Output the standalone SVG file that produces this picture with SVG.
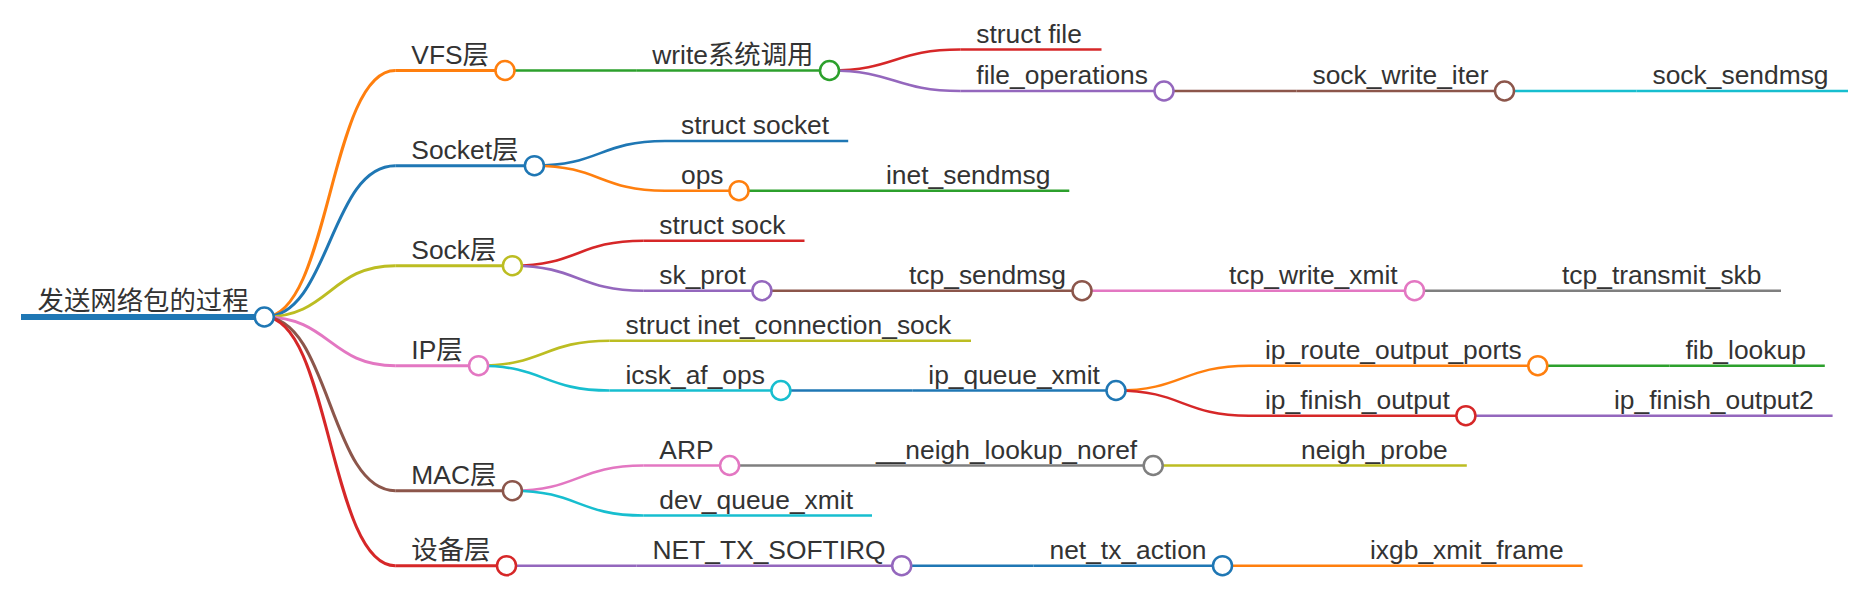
<svg xmlns="http://www.w3.org/2000/svg" width="1861" height="605" viewBox="0 0 1861 605">
<style>
text{font-family:"Liberation Sans",Arial,"Noto Sans CJK SC",sans-serif;font-size:26.4px;fill:#333}
path,line{fill:none;stroke-linecap:butt}
circle{fill:#fff;stroke-width:2.5}
.d0{stroke-width:6}.d1{stroke-width:3}.d2{stroke-width:2.6}.d3{stroke-width:2.4}
.c0{stroke:#1f77b4}.c1{stroke:#ff7f0e}.c2{stroke:#2ca02c}.c3{stroke:#d62728}.c4{stroke:#9467bd}
.c5{stroke:#8c564b}.c6{stroke:#e377c2}.c7{stroke:#7f7f7f}.c8{stroke:#bcbd22}.c9{stroke:#17becf}
</style>
<rect width="1861" height="605" fill="#fff"/>
<g id="connectors">
<path class="d1 c1" d="M264.3 317C329.8 317 329.8 70.5 395.3 70.5"/>
<path class="d1 c0" d="M264.3 317C329.8 317 329.8 165.7 395.3 165.7"/>
<path class="d1 c8" d="M264.3 317C329.8 317 329.8 265.7 395.3 265.7"/>
<path class="d1 c6" d="M264.3 317C329.8 317 329.8 365.7 395.3 365.7"/>
<path class="d1 c5" d="M264.3 317C329.8 317 329.8 490.7 395.3 490.7"/>
<path class="d1 c3" d="M264.3 317C329.8 317 329.8 565.7 395.3 565.7"/>
<path class="d2 c2" d="M505 70.5L636.2 70.5"/>
<path class="d2 c0" d="M534.4 165.7C599.7 165.7 599.7 141 665 141"/>
<path class="d2 c1" d="M534.4 165.7C599.7 165.7 599.7 190.7 665 190.7"/>
<path class="d2 c3" d="M512.4 265.7C577.9 265.7 577.9 240.7 643.3 240.7"/>
<path class="d2 c4" d="M512.4 265.7C577.9 265.7 577.9 290.7 643.3 290.7"/>
<path class="d2 c8" d="M478.6 365.7C544 365.7 544 340.7 609.5 340.7"/>
<path class="d2 c9" d="M478.6 365.7C544 365.7 544 390.5 609.5 390.5"/>
<path class="d2 c6" d="M512.4 490.7C577.9 490.7 577.9 465.5 643.3 465.5"/>
<path class="d2 c9" d="M512.4 490.7C577.9 490.7 577.9 515.5 643.3 515.5"/>
<path class="d2 c4" d="M506.5 565.7L636.5 565.7"/>
<path class="d3 c3" d="M829.5 70.5C894.9 70.5 894.9 49.5 960.3 49.5"/>
<path class="d3 c4" d="M829.5 70.5C894.9 70.5 894.9 91 960.3 91"/>
<path class="d3 c2" d="M739 190.7L870 190.7"/>
<path class="d3 c5" d="M761.9 290.7L893 290.7"/>
<path class="d3 c0" d="M780.9 390.5L912.3 390.5"/>
<path class="d3 c7" d="M729.6 465.5L860 465.5"/>
<path class="d3 c0" d="M901.7 565.7L1033.5 565.7"/>
<path class="d3 c5" d="M1164 91L1296.5 91"/>
<path class="d3 c6" d="M1082 290.7L1213 290.7"/>
<path class="d3 c1" d="M1116 390.5C1182.5 390.5 1182.5 365.7 1249 365.7"/>
<path class="d3 c3" d="M1116 390.5C1182.5 390.5 1182.5 415.7 1249 415.7"/>
<path class="d3 c8" d="M1153.2 465.5L1285 465.5"/>
<path class="d3 c1" d="M1222.5 565.7L1354 565.7"/>
<path class="d3 c9" d="M1504.5 91L1636.5 91"/>
<path class="d3 c7" d="M1414.5 290.7L1546 290.7"/>
<path class="d3 c2" d="M1537.8 365.7L1669.5 365.7"/>
<path class="d3 c4" d="M1465.9 415.7L1598 415.7"/>
</g>
<g id="n-root"><path class="d0 c0" d="M21 317H264.3"/><text x="37.5" y="310">发送网络包的过程</text><circle class="c0" cx="264.3" cy="317" r="9.5"/></g>
<g id="n-vfs"><path class="d1 c1" d="M395.3 70.5H505"/><text x="411.3" y="63.5">VFS层</text><circle class="c1" cx="505" cy="70.5" r="9.5"/></g>
<g id="n-write"><path class="d2 c2" d="M636.2 70.5H829.5"/><text x="652.2" y="63.5">write系统调用</text><circle class="c2" cx="829.5" cy="70.5" r="9.5"/></g>
<g id="n-structfile"><path class="d3 c3" d="M960.3 49.5H1101.5"/><text x="976.3" y="42.5">struct file</text></g>
<g id="n-fileops"><path class="d3 c4" d="M960.3 91H1164"/><text x="976.3" y="84">file_operations</text><circle class="c4" cx="1164" cy="91" r="9.5"/></g>
<g id="n-sockwriteiter"><path class="d3 c5" d="M1296.5 91H1504.5"/><text x="1312.5" y="84">sock_write_iter</text><circle class="c5" cx="1504.5" cy="91" r="9.5"/></g>
<g id="n-socksendmsg"><path class="d3 c9" d="M1636.5 91H1848"/><text x="1652.5" y="84">sock_sendmsg</text></g>
<g id="n-socket"><path class="d1 c0" d="M395.3 165.7H534.4"/><text x="411.3" y="158.7">Socket层</text><circle class="c0" cx="534.4" cy="165.7" r="9.5"/></g>
<g id="n-structsocket"><path class="d2 c0" d="M665 141H848.2"/><text x="681" y="134">struct socket</text></g>
<g id="n-ops"><path class="d2 c1" d="M665 190.7H739"/><text x="681" y="183.7">ops</text><circle class="c1" cx="739" cy="190.7" r="9.5"/></g>
<g id="n-inetsendmsg"><path class="d3 c2" d="M870 190.7H1069.3"/><text x="886" y="183.7">inet_sendmsg</text></g>
<g id="n-sock"><path class="d1 c8" d="M395.3 265.7H512.4"/><text x="411.3" y="258.7">Sock层</text><circle class="c8" cx="512.4" cy="265.7" r="9.5"/></g>
<g id="n-structsock"><path class="d2 c3" d="M643.3 240.7H804.5"/><text x="659.3" y="233.7">struct sock</text></g>
<g id="n-skprot"><path class="d2 c4" d="M643.3 290.7H761.9"/><text x="659.3" y="283.7">sk_prot</text><circle class="c4" cx="761.9" cy="290.7" r="9.5"/></g>
<g id="n-tcpsendmsg"><path class="d3 c5" d="M893 290.7H1082"/><text x="909" y="283.7">tcp_sendmsg</text><circle class="c5" cx="1082" cy="290.7" r="9.5"/></g>
<g id="n-tcpwritexmit"><path class="d3 c6" d="M1213 290.7H1414.5"/><text x="1229" y="283.7">tcp_write_xmit</text><circle class="c6" cx="1414.5" cy="290.7" r="9.5"/></g>
<g id="n-tcptransmitskb"><path class="d3 c7" d="M1546 290.7H1781"/><text x="1562" y="283.7">tcp_transmit_skb</text></g>
<g id="n-ip"><path class="d1 c6" d="M395.3 365.7H478.6"/><text x="411.3" y="358.7">IP层</text><circle class="c6" cx="478.6" cy="365.7" r="9.5"/></g>
<g id="n-inetconnsock"><path class="d2 c8" d="M609.5 340.7H971"/><text x="625.5" y="333.7">struct inet_connection_sock</text></g>
<g id="n-icskafops"><path class="d2 c9" d="M609.5 390.5H780.9"/><text x="625.5" y="383.5">icsk_af_ops</text><circle class="c9" cx="780.9" cy="390.5" r="9.5"/></g>
<g id="n-ipqueuexmit"><path class="d3 c0" d="M912.3 390.5H1116"/><text x="928.3" y="383.5">ip_queue_xmit</text><circle class="c0" cx="1116" cy="390.5" r="9.5"/></g>
<g id="n-iprouteoutputports"><path class="d3 c1" d="M1249 365.7H1537.8"/><text x="1265" y="358.7">ip_route_output_ports</text><circle class="c1" cx="1537.8" cy="365.7" r="9.5"/></g>
<g id="n-fiblookup"><path class="d3 c2" d="M1669.5 365.7H1824.8"/><text x="1685.5" y="358.7">fib_lookup</text></g>
<g id="n-ipfinishoutput"><path class="d3 c3" d="M1249 415.7H1465.9"/><text x="1265" y="408.7">ip_finish_output</text><circle class="c3" cx="1465.9" cy="415.7" r="9.5"/></g>
<g id="n-ipfinishoutput2"><path class="d3 c4" d="M1598 415.7H1832.6"/><text x="1614" y="408.7">ip_finish_output2</text></g>
<g id="n-mac"><path class="d1 c5" d="M395.3 490.7H512.4"/><text x="411.3" y="483.7">MAC层</text><circle class="c5" cx="512.4" cy="490.7" r="9.5"/></g>
<g id="n-arp"><path class="d2 c6" d="M643.3 465.5H729.6"/><text x="659.3" y="458.5">ARP</text><circle class="c6" cx="729.6" cy="465.5" r="9.5"/></g>
<g id="n-neighlookup"><path class="d3 c7" d="M860 465.5H1153.2"/><text x="876" y="458.5">__neigh_lookup_noref</text><circle class="c7" cx="1153.2" cy="465.5" r="9.5"/></g>
<g id="n-neighprobe"><path class="d3 c8" d="M1285 465.5H1466.8"/><text x="1301" y="458.5">neigh_probe</text></g>
<g id="n-devqueuexmit"><path class="d2 c9" d="M643.3 515.5H872"/><text x="659.3" y="508.5">dev_queue_xmit</text></g>
<g id="n-device"><path class="d1 c3" d="M395.3 565.7H506.5"/><text x="411.3" y="558.7">设备层</text><circle class="c3" cx="506.5" cy="565.7" r="9.5"/></g>
<g id="n-nettxsoftirq"><path class="d2 c4" d="M636.5 565.7H901.7"/><text x="652.5" y="558.7">NET_TX_SOFTIRQ</text><circle class="c4" cx="901.7" cy="565.7" r="9.5"/></g>
<g id="n-nettxaction"><path class="d3 c0" d="M1033.5 565.7H1222.5"/><text x="1049.5" y="558.7">net_tx_action</text><circle class="c0" cx="1222.5" cy="565.7" r="9.5"/></g>
<g id="n-ixgbxmitframe"><path class="d3 c1" d="M1354 565.7H1582.6"/><text x="1370" y="558.7">ixgb_xmit_frame</text></g>
</svg>
